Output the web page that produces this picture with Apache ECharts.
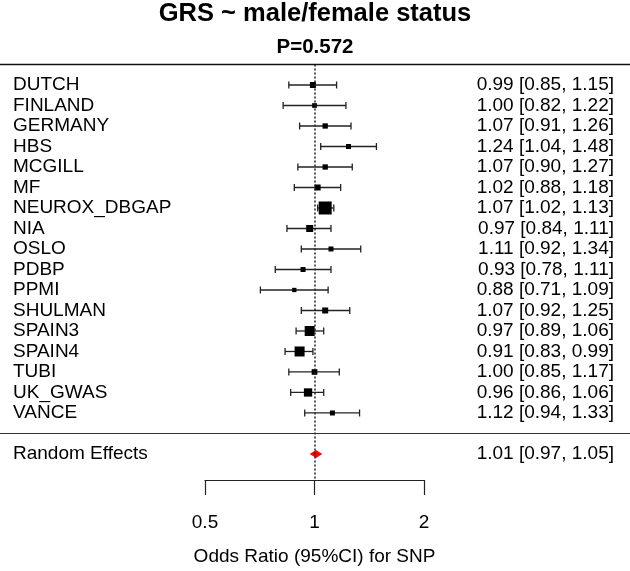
<!DOCTYPE html>
<html><head><meta charset="utf-8">
<script src="https://cdn.jsdelivr.net/npm/echarts@6/dist/echarts.min.js"></script>
<style>html,body{margin:0;padding:0;background:#fff}#main{width:630px;height:571px}</style>
</head><body><div id="main"></div>
<script>
const studies = ['DUTCH','FINLAND','GERMANY','HBS','MCGILL','MF','NEUROX_DBGAP','NIA','OSLO','PDBP','PPMI','SHULMAN','SPAIN3','SPAIN4','TUBI','UK_GWAS','VANCE'];
const oddsRatio = [0.99,1.00,1.07,1.24,1.07,1.02,1.07,0.97,1.11,0.93,0.88,1.07,0.97,0.91,1.00,0.96,1.12];
const ciLower = [0.85,0.82,0.91,1.04,0.90,0.88,1.02,0.84,0.92,0.78,0.71,0.92,0.89,0.83,0.85,0.86,0.94];
const ciUpper = [1.15,1.22,1.26,1.48,1.27,1.18,1.13,1.11,1.34,1.11,1.09,1.25,1.06,0.99,1.17,1.06,1.33];
const weights = [6,4.7,5.3,5,5.3,6,13,7,5,5,4.3,6,10,10,5.7,8.3,5];
const pooledLabel = 'Random Effects';
const pooledOR = 1.01, pooledLower = 0.97, pooledUpper = 1.05;
const xTicks = [0.5, 1, 2];
const titleText = 'GRS ~ male/female status';
const pValueText = 'P=0.572';
const xAxisTitle = 'Odds Ratio (95%CI) for SNP';

const FONT = "'Liberation Sans', Arial, Helvetica, sans-serif";
const f2 = v => v.toFixed(2);
const pooledRow = studies.length + 1;
const leftLabels = studies.slice(); leftLabels[pooledRow] = pooledLabel;
const rightLabels = studies.map((s,i)=>`${f2(oddsRatio[i])} [${f2(ciLower[i])}, ${f2(ciUpper[i])}]`);
rightLabels[pooledRow] = `${f2(pooledOR)} [${f2(pooledLower)}, ${f2(pooledUpper)}]`;

const studyData = studies.map((s,i)=>[oddsRatio[i], ciLower[i], ciUpper[i], i, weights[i]]);
const Y_MIN = -1, Y_MAX = 19.27;

function labelFor(arr){
  return v => { const r = Math.round(v); if (Math.abs(v-r)>1e-6 || r<0 || arr[r]==null) return ''; return arr[r]; };
}

const chart = echarts.init(document.getElementById('main'), null, {renderer:'canvas'});
chart.setOption({
  animation:false,
  backgroundColor:'#fff',
  textStyle:{fontFamily:FONT},
  title:[
    {text:titleText, left:'center', top:-4, textStyle:{fontFamily:FONT, fontSize:25.5, fontWeight:'bold', color:'#000'}},
    {text:pValueText, left:'center', top:32, textStyle:{fontFamily:FONT, fontSize:20.5, fontWeight:'bold', color:'#000'}}
  ],
  grid:[
    {left:205, width:219, top:64.5, height:415.5},
    {left:0, right:0, top:64.5, height:415.5}
  ],
  xAxis:[
    {type:'log', logBase:2, min:xTicks[0], max:xTicks[xTicks.length-1], gridIndex:0, position:'bottom',
     axisLine:{show:true, onZero:false, lineStyle:{color:'#222', width:1.2}},
     axisTick:{show:true, length:15, lineStyle:{color:'#222', width:1.2}},
     splitLine:{show:false}, minorTick:{show:false},
     axisLabel:{margin:33, fontSize:19, color:'#000', fontFamily:FONT, formatter:v=>String(v)},
     name:xAxisTitle, nameLocation:'middle', nameGap:67,
     nameTextStyle:{fontSize:19, color:'#000', fontFamily:FONT}},
    {type:'value', min:0, max:1, gridIndex:1, show:false}
  ],
  yAxis:[
    {type:'value', inverse:true, min:Y_MIN, max:Y_MAX, interval:1, gridIndex:0, position:'left',
     axisLine:{show:false}, axisTick:{show:false}, splitLine:{show:false},
     axisLabel:{show:true, align:'left', margin:192, fontSize:19, color:'#000', fontFamily:FONT,
       padding:[0,0,8,0], showMinLabel:true, showMaxLabel:true, formatter:labelFor(leftLabels)}},
    {type:'value', inverse:true, min:Y_MIN, max:Y_MAX, interval:1, gridIndex:0, position:'right',
     axisLine:{show:false}, axisTick:{show:false}, splitLine:{show:false},
     axisLabel:{show:true, align:'right', margin:190, fontSize:19, color:'#000', fontFamily:FONT,
       padding:[0,0,8,0], showMinLabel:true, showMaxLabel:true, formatter:labelFor(rightLabels)}},
    {type:'value', inverse:true, min:Y_MIN, max:Y_MAX, gridIndex:1, show:false}
  ],
  series:[
    {
      type:'custom', xAxisIndex:0, yAxisIndex:0, silent:true,
      data:studyData,
      encode:{x:[0,1,2], y:3},
      renderItem:function(params, api){
        const c = api.coord([api.value(0), api.value(3)]);
        const lo = api.coord([api.value(1), api.value(3)]);
        const hi = api.coord([api.value(2), api.value(3)]);
        const s = api.value(4);
        const ls = {stroke:'#222', lineWidth:1.3};
        return {type:'group', children:[
          {type:'line', shape:{x1:lo[0], y1:c[1], x2:hi[0], y2:c[1]}, style:ls},
          {type:'line', shape:{x1:lo[0], y1:c[1]-3.5, x2:lo[0], y2:c[1]+3.5}, style:ls},
          {type:'line', shape:{x1:hi[0], y1:c[1]-3.5, x2:hi[0], y2:c[1]+3.5}, style:ls},
          {type:'rect', shape:{x:c[0]-s/2, y:c[1]-s/2, width:s, height:s}, style:{fill:'#000'}}
        ]};
      },
      markLine:{
        silent:true, symbol:['none','none'], label:{show:false},
        lineStyle:{color:'#222', width:1.5, type:[2,2]},
        data:[{xAxis:1}]
      },
      z:3
    },
    {
      type:'custom', xAxisIndex:0, yAxisIndex:0, silent:true,
      data:[[pooledOR, pooledLower, pooledUpper, pooledRow]],
      encode:{x:[0,1,2], y:3},
      renderItem:function(params, api){
        const c = api.coord([api.value(0), api.value(3)]);
        const lo = api.coord([api.value(1), api.value(3)]);
        const hi = api.coord([api.value(2), api.value(3)]);
        return {type:'polygon', shape:{points:[[lo[0],c[1]],[c[0],c[1]-4],[hi[0],c[1]],[c[0],c[1]+4]]}, style:{fill:'#ff0000'}};
      },
      z:4
    },
    {
      type:'line', xAxisIndex:1, yAxisIndex:2, data:[], silent:true,
      markLine:{
        silent:true, symbol:['none','none'], label:{show:false},
        data:[
          {yAxis:-1, lineStyle:{color:'#111', width:1.3, type:'solid'}},
          {yAxis:studies.length, lineStyle:{color:'#333', width:1.2, type:'solid'}}
        ]
      }
    }
  ]
});
</script></body></html>
